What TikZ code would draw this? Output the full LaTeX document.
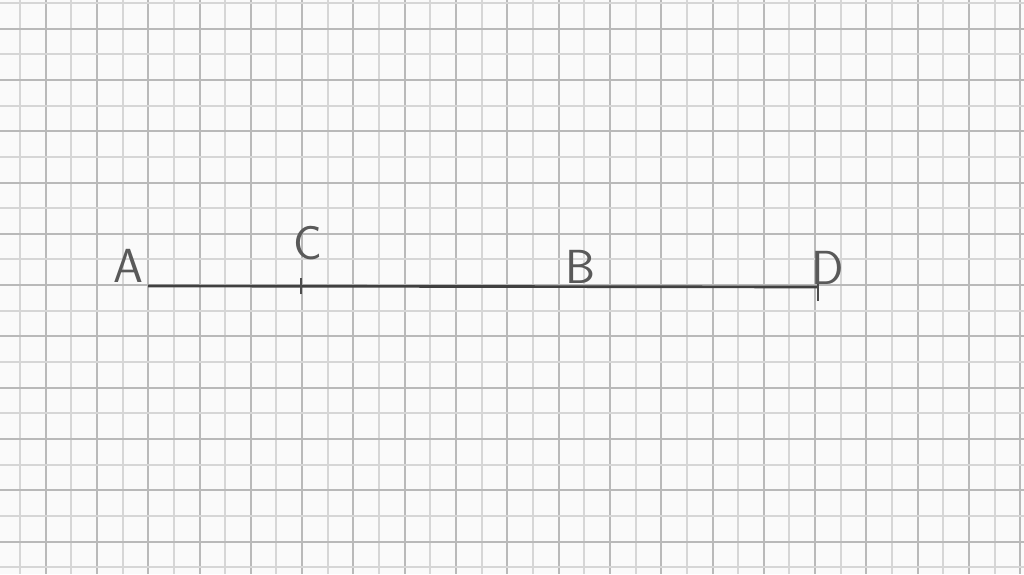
\documentclass[tikz,border=0pt]{standalone}
\usepackage{tikz}
\tikzset{
  minorline/.style={gray!32, line width=1.42pt},
  majorline/.style={gray!55, line width=1.42pt},
  letter/.style={text=black!65, font=\sffamily\fontsize{34}{34}\selectfont, inner sep=0pt}
}
\begin{document}
\begin{tikzpicture}[x=0.025cm, y=-0.025cm]

\fill[gray!4] (0,0) rectangle (1024,574);
\useasboundingbox (0,0) rectangle (1024,574);

\foreach \k in {0,...,39} {
        \pgfmathsetmacro{\xx}{round(20 + 25.65*\k)}
        \ifodd\k
          \draw[majorline] (\xx,0) -- (\xx,574);
        \else
          \draw[minorline] (\xx,0) -- (\xx,574);
        \fi
 }

\foreach \k in {0,...,22} {
        \pgfmathsetmacro{\yy}{round(3 + 25.65*\k)}
        \ifodd\k
          \draw[majorline] (0,\yy) -- (1024,\yy);
        \else
          \draw[minorline] (0,\yy) -- (1024,\yy);
        \fi
 }

\coordinate (A) at (148,286);
\coordinate (C) at (301,286);
\coordinate (B) at (568,286);
\coordinate (D) at (818,287);

\draw[black!75, line width=1.9pt] (A) -- (D);
\draw[black!70, line width=1pt] ([yshift=-6]C) -- ([yshift=6]C);
\draw[black!70, line width=1pt] ([yshift=-10]D) -- ([yshift=10]D);

\node[letter] (labelA) at (128,266) {A};
\node[letter] (labelC) at (308,243) {C};
\node[letter] (labelB) at (580,267) {B};
\node[letter] (labelD) at (828,268) {D};
\end{tikzpicture}
\end{document}
